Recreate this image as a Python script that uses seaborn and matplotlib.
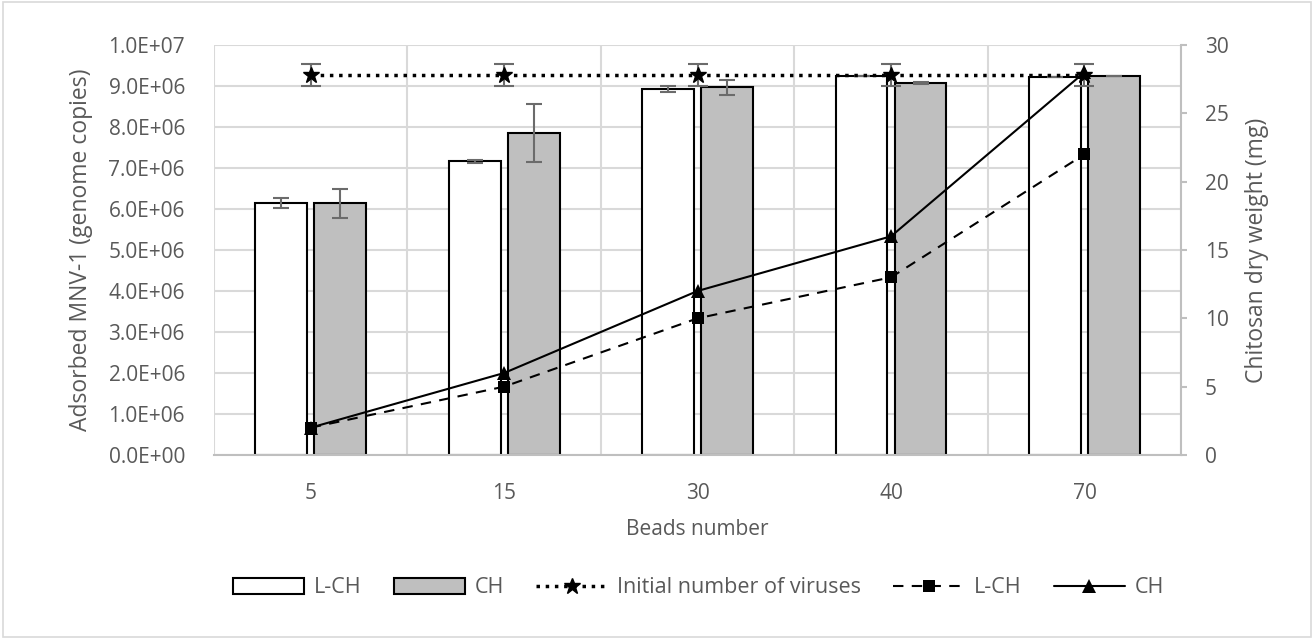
import matplotlib
matplotlib.use("Agg")
import matplotlib.pyplot as plt
import matplotlib.ticker as mticker
from matplotlib.patches import Rectangle
import numpy as np
import pandas as pd
import seaborn as sns

# --- data ---
beads = ["5", "15", "30", "40", "70"]
adsorbed_lch = [6.14e6, 7.16e6, 8.92e6, 9.24e6, 9.22e6]
adsorbed_lch_err = [0.12e6, 0.03e6, 0.07e6, 0.0, 0.0]
adsorbed_ch = [6.14e6, 7.85e6, 8.97e6, 9.08e6, 9.24e6]
adsorbed_ch_err = [0.35e6, 0.71e6, 0.18e6, 0.02e6, 0.0]
initial_viruses = [9.27e6, 9.27e6, 9.27e6, 9.27e6, 9.27e6]
initial_err = [0.27e6, 0.27e6, 0.27e6, 0.27e6, 0.27e6]
dry_weight_lch = [2, 5, 10, 13, 22]
dry_weight_ch = [2, 6, 12, 16, 28]

TEXT = "#595959"
GRID = "#d9d9d9"
AXIS = "#bfbfbf"
ERR = "#6b6b6b"

sns.set_theme(style="white")
plt.rcParams["font.family"] = ["Open Sans", "DejaVu Sans"]

df = pd.DataFrame({
    "beads": beads * 2,
    "value": adsorbed_lch + adsorbed_ch,
    "material": ["L-CH"] * 5 + ["CH"] * 5,
})

fig = plt.figure(figsize=(13.14, 6.39), dpi=100)
ax = fig.add_axes([0.1629, 0.288, 0.736, 0.6416])

sns.barplot(
    data=df, x="beads", y="value", hue="material", order=beads,
    hue_order=["L-CH", "CH"], palette={"L-CH": "white", "CH": "#bfbfbf"},
    width=0.61, gap=0.12, errorbar=None, edgecolor="black", linewidth=1.5,
    ax=ax, legend=False, zorder=2,
)

# error bars on top of the bars
lch_patches = ax.patches[:5]
ch_patches = ax.patches[5:10]
for bars, vals, errs in [(lch_patches, adsorbed_lch, adsorbed_lch_err),
                         (ch_patches, adsorbed_ch, adsorbed_ch_err)]:
    xs = [p.get_x() + p.get_width() / 2 for p in bars]
    ax.errorbar(xs, vals, yerr=errs, fmt="none", ecolor=ERR, elinewidth=1.5,
                capsize=6, capthick=1.5, zorder=3)

pos = np.arange(len(beads))
ax.errorbar(pos, initial_viruses, yerr=initial_err, color="black", ls=":",
            lw=2.5, marker="*", ms=12, ecolor=ERR, elinewidth=1.5, capsize=7,
            capthick=1.5, zorder=5)

ax.set_ylim(0, 1.0e7)
ax.set_xlim(-0.5, 4.5)
ax.yaxis.set_major_locator(mticker.MultipleLocator(1e6))
ax.yaxis.set_major_formatter(mticker.FuncFormatter(lambda v, p: f"{v:.1E}"))
ax.set_xticks(pos, beads)
ax.set_xticks(np.arange(-0.5, 5, 1), minor=True)
ax.grid(axis="y", which="major", color=GRID, lw=1.5, zorder=0)
ax.grid(axis="x", which="minor", color=GRID, lw=1.5, zorder=0)
ax.grid(axis="x", which="major", visible=False)
ax.set_axisbelow(True)
for s in ax.spines.values():
    s.set_visible(False)
ax.spines["bottom"].set_visible(True)
ax.spines["bottom"].set_color(AXIS)
ax.spines["bottom"].set_linewidth(1.5)
ax.tick_params(axis="both", which="both", length=0, labelsize=15, colors=TEXT)
ax.tick_params(axis="y", pad=21)
ax.tick_params(axis="x", pad=20)
ax.set_xlabel("Beads number", fontsize=15, color=TEXT, labelpad=11)
ax.set_ylabel("Adsorbed MNV-1 (genome copies)", fontsize=16.5, color=TEXT, labelpad=11)

ax2 = ax.twinx()
sns.lineplot(x=pos, y=dry_weight_lch, ax=ax2, color="black", lw=1.5,
             linestyle=(0, (5, 4)), marker="s", markersize=9, markeredgewidth=0,
             zorder=4)
sns.lineplot(x=pos, y=dry_weight_ch, ax=ax2, color="black", lw=1.5,
             marker="^", markersize=10, markeredgewidth=0, zorder=4)
ax2.set_ylim(0, 30)
ax2.yaxis.set_major_locator(mticker.MultipleLocator(5))
ax2.set_xlim(-0.5, 4.5)
for s in ax2.spines.values():
    s.set_visible(False)
ax2.spines["right"].set_visible(True)
ax2.spines["right"].set_color(AXIS)
ax2.spines["right"].set_linewidth(1.5)
ax2.tick_params(axis="y", length=4, width=1.5, color=AXIS, direction="out",
                labelsize=15, labelcolor=TEXT, pad=13)
ax2.set_ylabel("Chitosan dry weight (mg)", fontsize=16.5, color=TEXT, labelpad=12)

# legend
h_bar1 = Rectangle((0, 0), 1, 1, facecolor="white", edgecolor="black", lw=1.5)
h_bar2 = Rectangle((0, 0), 1, 1, facecolor="#bfbfbf", edgecolor="black", lw=1.5)
h_init = plt.Line2D([], [], color="black", ls=":", lw=2.5, marker="*", ms=12)
h_lch = plt.Line2D([], [], color="black", ls=(0, (5, 4)), lw=1.5, marker="s", ms=9, mew=0)
h_ch = plt.Line2D([], [], color="black", lw=1.5, marker="^", ms=10, mew=0)
leg = fig.legend([h_bar1, h_bar2, h_init, h_lch, h_ch],
                 ["L-CH", "CH", "Initial number of viruses", "L-CH", "CH"],
                 loc="center", bbox_to_anchor=(0.5316, 0.08), ncol=5, frameon=False,
                 fontsize=15.5, handlelength=3.3, handleheight=0.8,
                 columnspacing=1.5, handletextpad=0.45)
for t in leg.get_texts():
    t.set_color(TEXT)

fig.patches.append(Rectangle((0.002, 0.003), 0.996, 0.994, transform=fig.transFigure,
                             fill=False, edgecolor=GRID, lw=1.2))

fig.savefig("out.png", dpi=100)
plt.close(fig)
